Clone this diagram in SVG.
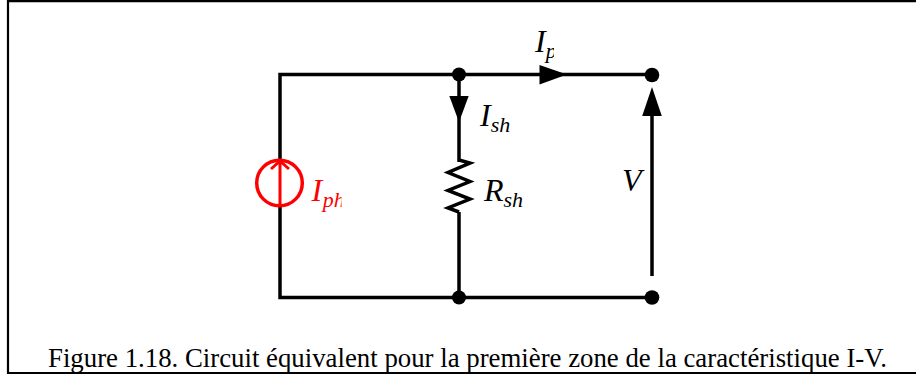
<svg xmlns="http://www.w3.org/2000/svg" width="916" height="374" viewBox="0 0 916 374">
<style>
.w{fill:none;stroke:#000;stroke-width:3.500}
.b{fill:#000}
.t{font-family:"Liberation Serif","Times New Roman",serif;font-style:italic;font-size:32px;fill:#000}
.s{font-size:22px}
.r{fill:#f00}
.c{font-family:"Liberation Serif","Times New Roman",serif;font-size:26.800px;fill:#000}
</style>
<defs>
<clipPath id="clipPh"><rect x="300" y="160" width="41.500" height="60"/></clipPath>
<clipPath id="clipP"><rect x="525" y="20" width="29" height="50"/></clipPath>
</defs>
<rect width="916" height="374" fill="#fff"/>
<path id="frame" d="M8 374V0M8 1.200H916M8 373.200H916" fill="none" stroke="#000" stroke-width="2.200"/>
<g id="connectors">
<path class="w" d="M280 159V74.500H652"/>
<path class="w" d="M280 207V297.500H652"/>
<path class="w" d="M459 74.500V162M459 212V297.500"/>
<path class="w" d="M652 116V276"/>
<path class="b" d="M449.300 96H468.700L459 122Z"/>
<path class="b" d="M539.500 65L567 74.500L539.500 84.500Z"/>
<path class="b" d="M652 87L661.800 116H642.200Z"/>
</g>
<g id="source">
<circle cx="279.500" cy="183" r="22.800" fill="none" stroke="#f00" stroke-width="3.500"/>
<path d="M280 207V161M271 169L280 161L289 169" fill="none" stroke="#f00" stroke-width="3"/>
<text class="t r" x="311.500" y="201" clip-path="url(#clipPh)">I<tspan class="s" dx="0.500" dy="6">ph</tspan></text>
</g>
<g id="resistor">
<path class="w" d="M459 160L470 163L448 172.500L470 181.500L448 190.500L470 199L448 208L459 212"/>
<text class="t" x="484" y="201">R<tspan class="s" dy="6">sh</tspan></text>
</g>
<g id="node-top"><circle class="b" cx="459" cy="74.500" r="7"/></g>
<g id="node-bottom"><circle class="b" cx="459" cy="297.500" r="7"/></g>
<g id="terminal-top"><circle class="b" cx="652" cy="75" r="7.300"/></g>
<g id="terminal-bottom"><circle class="b" cx="652" cy="297.500" r="7.300"/></g>
<g id="labels">
<text class="t" x="535" y="52" clip-path="url(#clipP)">I<tspan class="s" dy="6">p</tspan></text>
<text class="t" x="480" y="126">I<tspan class="s" dy="6">sh</tspan></text>
<text class="t" x="622" y="191">V</text>
</g>
<text id="caption" class="c" x="48" y="367">Figure 1.18. Circuit équivalent pour la première zone de la caractéristique I-V.</text>
</svg>
